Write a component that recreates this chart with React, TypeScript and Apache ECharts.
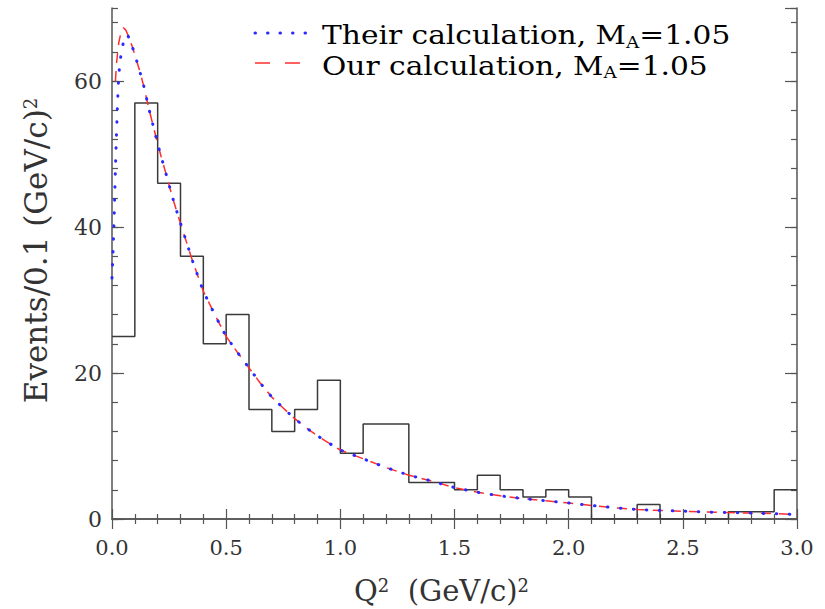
import React, { useEffect, useRef } from 'react';
import * as echarts from 'echarts';

// Histogram: events per 0.1 (GeV/c)^2 bin, bins from 0.0 to 3.0
const binWidth = 0.1;
const histCounts = [25, 57, 46, 36, 24, 28, 15, 12, 15, 19, 9, 13, 13, 5, 5, 4, 6, 4, 3, 4, 3, 0, 0, 2, 0, 0, 0, 1, 1, 4];

// "Their calculation" curve (blue dotted)
const theirQ = [0, 0.005, 0.01, 0.015, 0.02, 0.025, 0.03, 0.04, 0.05, 0.06, 0.07, 0.08, 0.09, 0.1, 0.12, 0.14, 0.16, 0.18, 0.2, 0.22, 0.24, 0.26, 0.28, 0.3, 0.35, 0.4, 0.45, 0.5, 0.55, 0.6, 0.65, 0.7, 0.75, 0.8, 0.85, 0.9, 0.95, 1.0, 1.1, 1.2, 1.3, 1.4, 1.5, 1.6, 1.7, 1.8, 1.9, 2.0, 2.1, 2.2, 2.3, 2.4, 2.5, 2.6, 2.7, 2.8, 2.9, 3.0];
const theirVals = [33, 37, 42, 48, 53, 57.5, 61, 63.8, 65.3, 66.3, 66.2, 65.5, 64.6, 63.6, 61.5, 59.2, 56.4, 53.9, 51.4, 49.1, 46.9, 44.6, 42.5, 40.5, 35.6, 31.2, 28.0, 25.0, 22.8, 20.7, 18.6, 16.7, 15.2, 13.75, 12.5, 11.4, 10.4, 9.45, 8.25, 7.05, 6.0, 5.2, 4.3, 3.67, 3.17, 2.8, 2.5, 2.2, 1.85, 1.55, 1.3, 1.17, 1.07, 0.96, 0.88, 0.81, 0.73, 0.6];

// "Our calculation" curve (red dashed)
const ourQ = [0.015, 0.02, 0.03, 0.04, 0.05, 0.06, 0.07, 0.08, 0.09, 0.1, 0.12, 0.14, 0.16, 0.18, 0.2, 0.22, 0.24, 0.26, 0.28, 0.3, 0.35, 0.4, 0.45, 0.5, 0.55, 0.6, 0.65, 0.7, 0.75, 0.8, 0.85, 0.9, 0.95, 1.0, 1.1, 1.2, 1.3, 1.4, 1.5, 1.6, 1.7, 1.8, 1.9, 2.0, 2.1, 2.2, 2.3, 2.4, 2.5, 2.6, 2.7, 2.8, 2.9, 3.0];
const ourVals = [60, 62.5, 65.3, 66.8, 67.3, 67.0, 66.3, 65.5, 64.6, 63.6, 61.5, 59.2, 56.4, 53.9, 51.4, 49.1, 46.9, 44.6, 42.5, 40.5, 35.6, 31.2, 28.0, 25.0, 22.8, 20.7, 18.6, 16.7, 15.2, 13.75, 12.5, 11.4, 10.4, 9.45, 8.25, 7.05, 6.0, 5.2, 4.3, 3.67, 3.17, 2.8, 2.5, 2.2, 1.85, 1.55, 1.3, 1.17, 1.07, 0.96, 0.88, 0.81, 0.73, 0.6];

const legendTheir = 'Their calculation, M';
const legendOur = 'Our calculation, M';
const legendSub = 'A';
const legendValue = '=1.05';
const xTitle = ['Q', '2', '  (GeV/c)', '2'];
const yTitle = ['Events/0.1 (GeV/c)', '2'];

const FONT = '"DejaVu Serif", serif';
const AXIS_COLOR = '#555';
const TEXT_COLOR = '#333';
const BLUE = '#2a2aff';
const RED = '#ff2e2e';

export default function App() {
  const ref = useRef<HTMLDivElement>(null);

  useEffect(() => {
    if (!ref.current) return;
    const chart = echarts.init(ref.current, null, { renderer: 'svg' });

    const histData: number[][] = histCounts.map((c, i) => [i * binWidth, c]);
    histData.push([histCounts.length * binWidth, histCounts[histCounts.length - 1]]);

    const tickLine = { color: AXIS_COLOR, width: 1.2 };
    const axisLineStyle = { show: true, lineStyle: { color: AXIS_COLOR, width: 1.5 } };

    const xCommon = {
      type: 'value' as const,
      min: 0,
      max: 3,
      interval: 0.5,
      splitLine: { show: false },
      axisLine: axisLineStyle,
      axisTick: { show: true, inside: true, length: 10, lineStyle: tickLine },
      minorTick: { show: true, splitNumber: 5, length: 5, lineStyle: tickLine },
    };
    const yMajor = {
      type: 'value' as const,
      min: 0,
      max: 70,
      interval: 20,
      splitLine: { show: false },
      axisLine: axisLineStyle,
      axisTick: { show: true, inside: true, length: 12, lineStyle: tickLine },
    };
    const yMinor = {
      type: 'value' as const,
      min: 0,
      max: 70,
      interval: 4,
      splitLine: { show: false },
      axisLine: { show: false },
      axisLabel: { show: false },
      axisTick: { show: true, inside: true, length: 6, lineStyle: tickLine },
    };

    const titleRich = (size: number) => ({
      a: { fontFamily: FONT, fontSize: size, lineHeight: 30, color: TEXT_COLOR },
      s: { fontFamily: FONT, fontSize: 18, lineHeight: 8, verticalAlign: 'top', color: TEXT_COLOR },
    });

    const legendRich = (color: string) => ({
      a: { fontFamily: FONT, fontSize: 26.5, lineHeight: 30, color },
      s: { fontFamily: FONT, fontSize: 16.5, lineHeight: 14, verticalAlign: 'bottom', color },
    });

    chart.setOption({
      animation: false,
      backgroundColor: '#ffffff',
      grid: { left: 112, right: 28, top: 8, bottom: 90, containLabel: false, outerBoundsMode: 'none' },
      xAxis: [
        {
          ...xCommon,
          position: 'bottom',
          axisLabel: {
            show: true,
            margin: 18,
            fontFamily: FONT,
            fontSize: 21,
            color: TEXT_COLOR,
            formatter: (v: number) => v.toFixed(1),
          },
          name: `{a|${xTitle[0]}}{s|${xTitle[1]}}{a|${xTitle[2]}}{s|${xTitle[3]}}`,
          nameLocation: 'middle',
          nameGap: 57,
          nameTextStyle: { rich: titleRich(29), padding: [0, 26, 0, 0] },
        },
        { ...xCommon, position: 'top', axisLabel: { show: false } },
      ],
      yAxis: [
        {
          ...yMajor,
          position: 'left',
          axisLabel: {
            show: true,
            margin: 10,
            fontFamily: FONT,
            fontSize: 22,
            color: TEXT_COLOR,
            showMaxLabel: false,
          },
          name: `{a|${yTitle[0]}}{s|${yTitle[1]}}`,
          nameLocation: 'middle',
          nameRotate: 90,
          nameGap: 61,
          nameTextStyle: { rich: titleRich(31), padding: [0, 0, 0, 26] },
        },
        { ...yMinor, position: 'left' },
        { ...yMajor, position: 'right', axisLabel: { show: false } },
        { ...yMinor, position: 'right' },
      ],
      series: [
        {
          name: 'Data',
          type: 'line',
          step: 'end',
          data: histData,
          symbol: 'none',
          lineStyle: { color: '#3a3a3a', width: 1.5 },
          z: 2,
        },
        {
          name: 'Our calculation',
          type: 'line',
          data: ourQ.map((q, i) => [q, ourVals[i]]),
          symbol: 'none',
          smooth: false,
          lineStyle: { color: RED, width: 1.5, type: [10, 8] },
          z: 3,
        },
        {
          name: 'Their calculation',
          type: 'line',
          data: theirQ.map((q, i) => [q, theirVals[i]]),
          symbol: 'none',
          smooth: false,
          lineStyle: { color: BLUE, width: 3, type: [0.5, 12.5], cap: 'round' },
          z: 4,
        },
      ],
      graphic: [
        {
          type: 'line',
          shape: { x1: 255, y1: 33, x2: 306, y2: 33 },
          style: { stroke: BLUE, lineWidth: 3, lineDash: [0.5, 12], lineCap: 'round' },
        },
        {
          type: 'line',
          shape: { x1: 255, y1: 63, x2: 300, y2: 63 },
          style: { stroke: RED, lineWidth: 1.5, lineDash: [15, 15] },
        },
        {
          type: 'text',
          x: 322,
          y: 35.5,
          scaleX: 1.12,
          style: {
            text: `{a|${legendTheir}}{s|${legendSub}}{a|${legendValue}}`,
            rich: legendRich(BLUE),
            verticalAlign: 'middle',
            align: 'left',
          },
        },
        {
          type: 'text',
          x: 322,
          y: 66,
          scaleX: 1.12,
          style: {
            text: `{a|${legendOur}}{s|${legendSub}}{a|${legendValue}}`,
            rich: legendRich(RED),
            verticalAlign: 'middle',
            align: 'left',
          },
        },
      ],
    });

    return () => chart.dispose();
  }, []);

  return (
    <div
      ref={ref}
      style={{ position: 'fixed', left: 0, top: 0, width: 825, height: 609, background: '#fff' }}
    />
  );
}
